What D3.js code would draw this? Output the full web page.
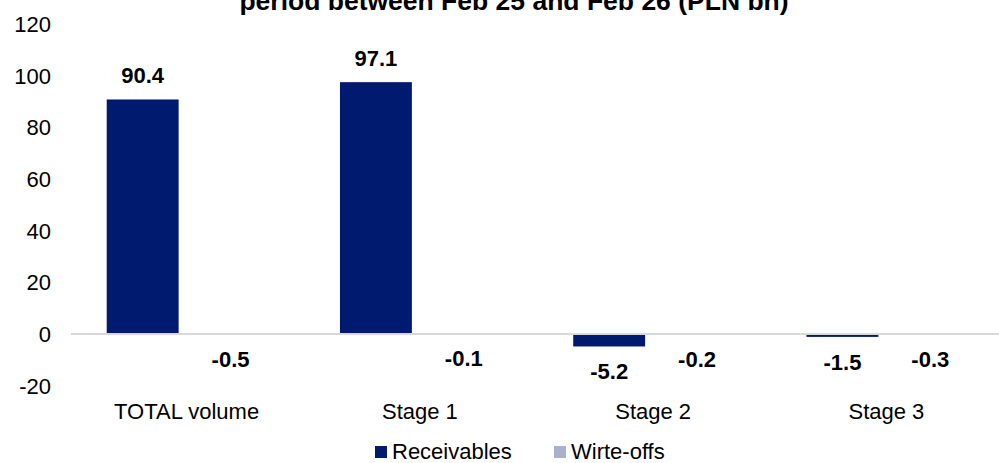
<!DOCTYPE html>
<html>
<head>
<meta charset="utf-8">
<script src="https://cdn.jsdelivr.net/npm/d3@7"></script>
<style>
  html, body { margin: 0; padding: 0; background: #fff; }
  svg { display: block; font-family: "Liberation Sans", Arial, sans-serif; }
</style>
</head>
<body>
<svg id="chart" width="999" height="463"></svg>
<script>
// Change in receivables and write-offs by stage (PLN bn)
const categories = ["TOTAL volume", "Stage 1", "Stage 2", "Stage 3"];
const seriesNames = ["Receivables", "Wirte-offs"];
const receivables = [90.4, 97.1, -5.2, -1.5];
const writeOffs = [-0.5, -0.1, -0.2, -0.3];
const yTicks = [-20, 0, 20, 40, 60, 80, 100, 120];
const titleText = "period between Feb 25 and Feb 26 (PLN bn)";

const colors = { "Receivables": "#001a70", "Wirte-offs": "#a8b3cb" };

// Plain hyphen for negative numbers
const fmtValue = v => d3.format(".1f")(v).replace("\u2212", "-");
const fmtTick = v => d3.format("d")(v).replace("\u2212", "-");

const rows = categories.map((c, i) => ({
  category: c,
  values: [
    { series: "Receivables", value: receivables[i] },
    { series: "Wirte-offs", value: writeOffs[i] }
  ]
}));

const svg = d3.select("#chart");

const x0 = d3.scaleBand().domain(categories).range([70, 1003]).paddingInner(0).paddingOuter(0);
const x1 = d3.scaleBand().domain(seriesNames).range([0, x0.bandwidth()])
  .paddingInner(0.182).paddingOuter(0.4175);
const y = d3.scaleLinear().domain([-20, 120]).range([384.7, 23]);

// Title (second line of the heading)
svg.append("text")
  .attr("x", 514).attr("y", 10)
  .attr("text-anchor", "middle")
  .attr("font-size", 26.5).attr("font-weight", "bold")
  .attr("fill", "#000")
  .text(titleText);

// Value axis: labels only
const yAxis = svg.append("g")
  .attr("transform", "translate(51,0)")
  .call(d3.axisLeft(y).tickValues(yTicks).tickSize(0).tickPadding(0).tickFormat(fmtTick));
yAxis.select(".domain").remove();
yAxis.selectAll("text")
  .attr("font-size", 22).attr("font-family", "Liberation Sans, Arial, sans-serif")
  .attr("fill", "#000").attr("dy", "0.38em");

// Bars
const groups = svg.append("g").selectAll("g")
  .data(rows).join("g")
  .attr("transform", d => `translate(${x0(d.category)},0)`);

groups.selectAll("rect")
  .data(d => d.values).join("rect")
  .attr("x", d => x1(d.series))
  .attr("width", x1.bandwidth())
  .attr("y", d => y(Math.max(0, d.value)))
  .attr("height", d => Math.abs(y(d.value) - y(0)))
  .attr("fill", d => colors[d.series]);

// Data labels
groups.selectAll("text.val")
  .data(d => d.values).join("text")
  .attr("class", "val")
  .attr("x", d => x1(d.series) + x1.bandwidth() / 2)
  .attr("y", d => d.value >= 0 ? y(d.value) - 16.5 : y(d.value) + 33)
  .attr("text-anchor", "middle")
  .attr("font-size", 22).attr("font-weight", "bold")
  .attr("fill", "#000")
  .text(d => fmtValue(d.value));

// Zero line
svg.append("line")
  .attr("x1", 71).attr("x2", 999)
  .attr("y1", y(0) + 1).attr("y2", y(0) + 1)
  .attr("stroke", "#d9d9d9").attr("stroke-width", 2);

// Category axis labels
const xAxis = svg.append("g")
  .call(d3.axisBottom(x0).tickSize(0).tickPadding(0));
xAxis.select(".domain").remove();
xAxis.selectAll("text")
  .attr("y", 419).attr("dy", null)
  .attr("font-size", 22).attr("font-family", "Liberation Sans, Arial, sans-serif")
  .attr("fill", "#000");

// Legend
const legendItems = [
  { name: seriesNames[0], x: 375 },
  { name: seriesNames[1], x: 554 }
];
const legend = svg.append("g").selectAll("g")
  .data(legendItems).join("g")
  .attr("transform", d => `translate(${d.x},0)`);
legend.append("rect")
  .attr("x", 0).attr("y", 446).attr("width", 12).attr("height", 12)
  .attr("fill", d => colors[d.name]);
legend.append("text")
  .attr("x", 17).attr("y", 458.5)
  .attr("font-size", 22).attr("fill", "#000")
  .text(d => d.name);
</script>
</body>
</html>
